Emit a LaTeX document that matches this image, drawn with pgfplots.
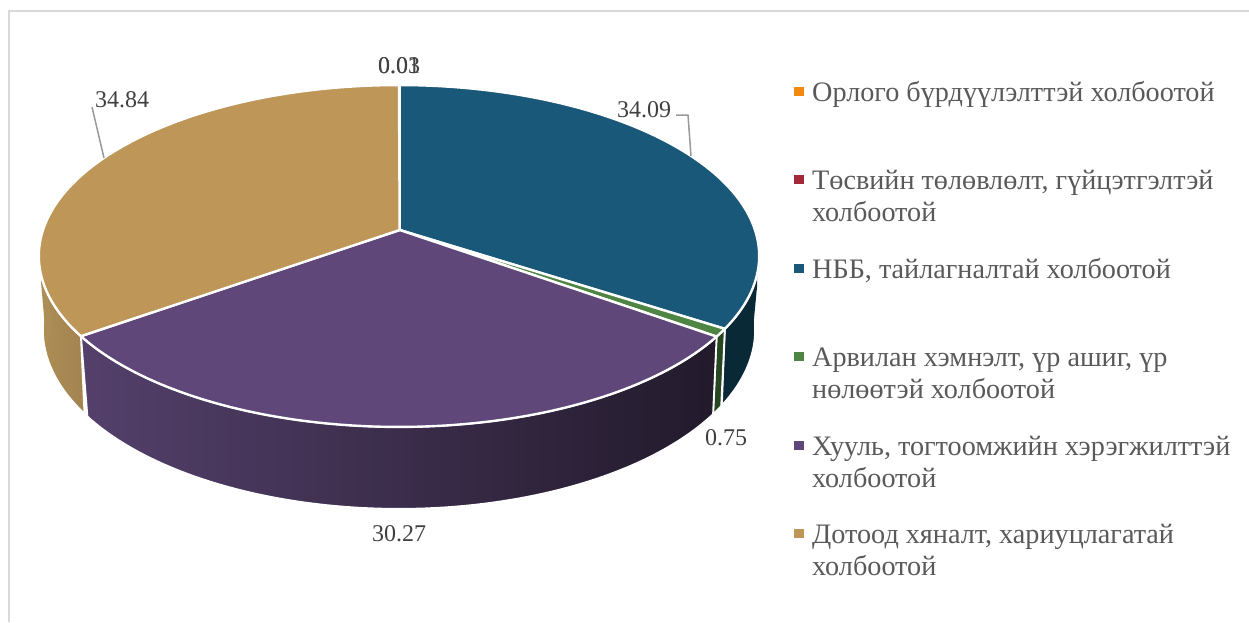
\documentclass[border=0pt]{standalone}
\usepackage{pgfplots}
\usepackage{pgfplotstable}
\usepackage{fontspec}
\setmainfont{Liberation Serif}
\pgfplotsset{compat=1.18}
\definecolor{cOr}{HTML}{F28A0E}
\definecolor{cRe}{HTML}{A3283A}
\definecolor{cBl}{HTML}{1A5879}
\definecolor{cGr}{HTML}{4E8542}
\definecolor{cPu}{HTML}{5F4879}
\definecolor{cBr}{HTML}{BD9658}
\definecolor{sBl}{HTML}{0A2937}
\definecolor{sGr}{HTML}{26471F}
\definecolor{sPuL}{HTML}{54406B}
\definecolor{sPuR}{HTML}{221A2B}
\definecolor{sBrL}{HTML}{AD8E55}
\definecolor{sBrR}{HTML}{A38350}
\definecolor{lab}{HTML}{404040}
\definecolor{leg}{HTML}{595959}
\pgfplotstableread{
v
0.03
0.01
34.09
0.75
30.27
34.84
}\slices
\pgfplotstablegetelem{0}{v}\of\slices\edef\va{\pgfplotsretval}
\pgfplotstablegetelem{1}{v}\of\slices\edef\vb{\pgfplotsretval}
\pgfplotstablegetelem{2}{v}\of\slices\edef\vc{\pgfplotsretval}
\pgfplotstablegetelem{3}{v}\of\slices\edef\vd{\pgfplotsretval}
\pgfplotstablegetelem{4}{v}\of\slices\edef\ve{\pgfplotsretval}
\pgfplotstablegetelem{5}{v}\of\slices\edef\vf{\pgfplotsretval}
\pgfmathsetmacro\Tot{\va+\vb+\vc+\vd+\ve+\vf}
\pgfmathsetmacro\Ta{(\va)/\Tot*360}
\pgfmathsetmacro\Tb{(\va+\vb)/\Tot*360}
\pgfmathsetmacro\Tc{(\va+\vb+\vc)/\Tot*360}
\pgfmathsetmacro\Td{(\va+\vb+\vc+\vd)/\Tot*360}
\pgfmathsetmacro\Te{(\va+\vb+\vc+\vd+\ve)/\Tot*360}
% far ends of the visible walls
\def\Wr{95}
\def\Wl{265}
\pgfmathsetmacro\EndBl{\Wr+2*(\Tc-\Wr)}
\pgfmathsetmacro\EndGr{\Tc+2*(\Td-\Tc)}
\pgfmathsetmacro\EndPu{\Td+2*(\Te-\Td)}
\pgfmathsetmacro\EndBr{\Te+2*(\Wl-\Te)}
\newcommand{\pieWedge}[3]{%
  \addplot[fill=#1,draw=white,line width=2.4pt,line join=round,domain=#2:#3,samples=90]
    ({tx(x)},{ty(x)}) -- (axis cs:399.7,230) -- cycle;}
\newcommand{\wall}[4]{% style, start, turn, end
  \addplot[#1,draw=white,line width=1.8pt,line join=round,domain=#2:#4,samples=241]
    ({x<=#3 ? tx(x) : bx(2*#3-x)},{x<=#3 ? ty(x) : by(2*#3-x)}) -- cycle;}
\newcommand{\legtxt}[3]{\node[anchor=base west,text=leg,font=\fontsize{28.2}{28.2}\selectfont,inner sep=0pt] at (axis cs:#1,#2) {#3};}
\newcommand{\lab}[3]{\node[anchor=base,text=lab,font=\fontsize{24}{24}\selectfont,inner sep=0pt] at (axis cs:#1,#2) {#3};}
\begin{document}
\begin{tikzpicture}[x=1pt,y=1pt]
\useasboundingbox (0,0) rectangle (1249pt,622pt);
\begin{axis}[
  at={(0,0)},anchor=south west,
  scale only axis,width=1249pt,height=622pt,
  xmin=0,xmax=1249,ymin=0,ymax=622,y dir=reverse,
  hide axis,clip=false,
  declare function={
    den(\t)=1+0.152*cos(\t);
    tx(\t)=399+356*sin(\t)/den(\t);
    ty(\t)=230-167*cos(\t)/den(\t);
    bx(\t)=399+352*sin(\t)/den(\t);
    by(\t)=302.5-175*cos(\t)/den(\t);
  },
]
% frame
\addplot[draw=black!15,line width=2pt] coordinates {(9,622) (9,11) (1249,11)};
% walls
\wall{fill=sBl}{\Wr}{\Tc}{\EndBl}
\wall{fill=sGr}{\Tc}{\Td}{\EndGr}
\wall{left color=sPuL,right color=sPuR}{\Td}{\Te}{\EndPu}
\wall{left color=sBrL,right color=sBrR}{\Te}{\Wl}{\EndBr}
\addplot[fill=sBl,draw=none] coordinates {(757,265) (757,287) (751,350) (745,330)} -- cycle;
\addplot[fill=sBrL,draw=none] coordinates {(41,265) (41,282) (47,350) (52,320)} -- cycle;
% top face
\pieWedge{cOr}{0}{\Ta}
\pieWedge{cRe}{\Ta}{\Tb}
\pieWedge{cBl}{\Tb}{\Tc}
\pieWedge{cGr}{\Tc}{\Td}
\pieWedge{cPu}{\Td}{\Te}
\pieWedge{cBr}{\Te}{360}
% leaders
\addplot[draw=black!40,line width=1.5pt] coordinates {(92,107) (104,158)};
\addplot[draw=black!40,line width=1.5pt] coordinates {(676,115) (688,115) (691,156)};
% value labels
\lab{399}{73}{0.03}
\lab{399}{73}{0.01}
\lab{122}{107}{34.84}
\lab{644}{117}{34.09}
\lab{726}{445}{0.75}
\lab{399}{541}{30.27}
% legend
\addplot[only marks,mark=square*,mark size=4.2pt,color=cOr] coordinates {(798.5,91)};
\addplot[only marks,mark=square*,mark size=4.2pt,color=cRe] coordinates {(798.5,179)};
\addplot[only marks,mark=square*,mark size=4.2pt,color=cBl] coordinates {(798.5,268)};
\addplot[only marks,mark=square*,mark size=4.2pt,color=cGr] coordinates {(798.5,356)};
\addplot[only marks,mark=square*,mark size=4.2pt,color=cPu] coordinates {(798.5,445)};
\addplot[only marks,mark=square*,mark size=4.2pt,color=cBr] coordinates {(798.5,533)};
\legtxt{812}{101}{Орлого бүрдүүлэлттэй холбоотой}
\legtxt{812}{189}{Төсвийн төлөвлөлт, гүйцэтгэлтэй}
\legtxt{812}{221}{холбоотой}
\legtxt{812}{278}{НББ, тайлагналтай холбоотой}
\legtxt{812}{366}{Арвилан хэмнэлт, үр ашиг, үр}
\legtxt{812}{398}{нөлөөтэй холбоотой}
\legtxt{812}{455}{Хууль, тогтоомжийн хэрэгжилттэй}
\legtxt{812}{487}{холбоотой}
\legtxt{812}{543}{Дотоод хяналт, хариуцлагатай}
\legtxt{812}{575}{холбоотой}
\end{axis}
\end{tikzpicture}
\end{document}
